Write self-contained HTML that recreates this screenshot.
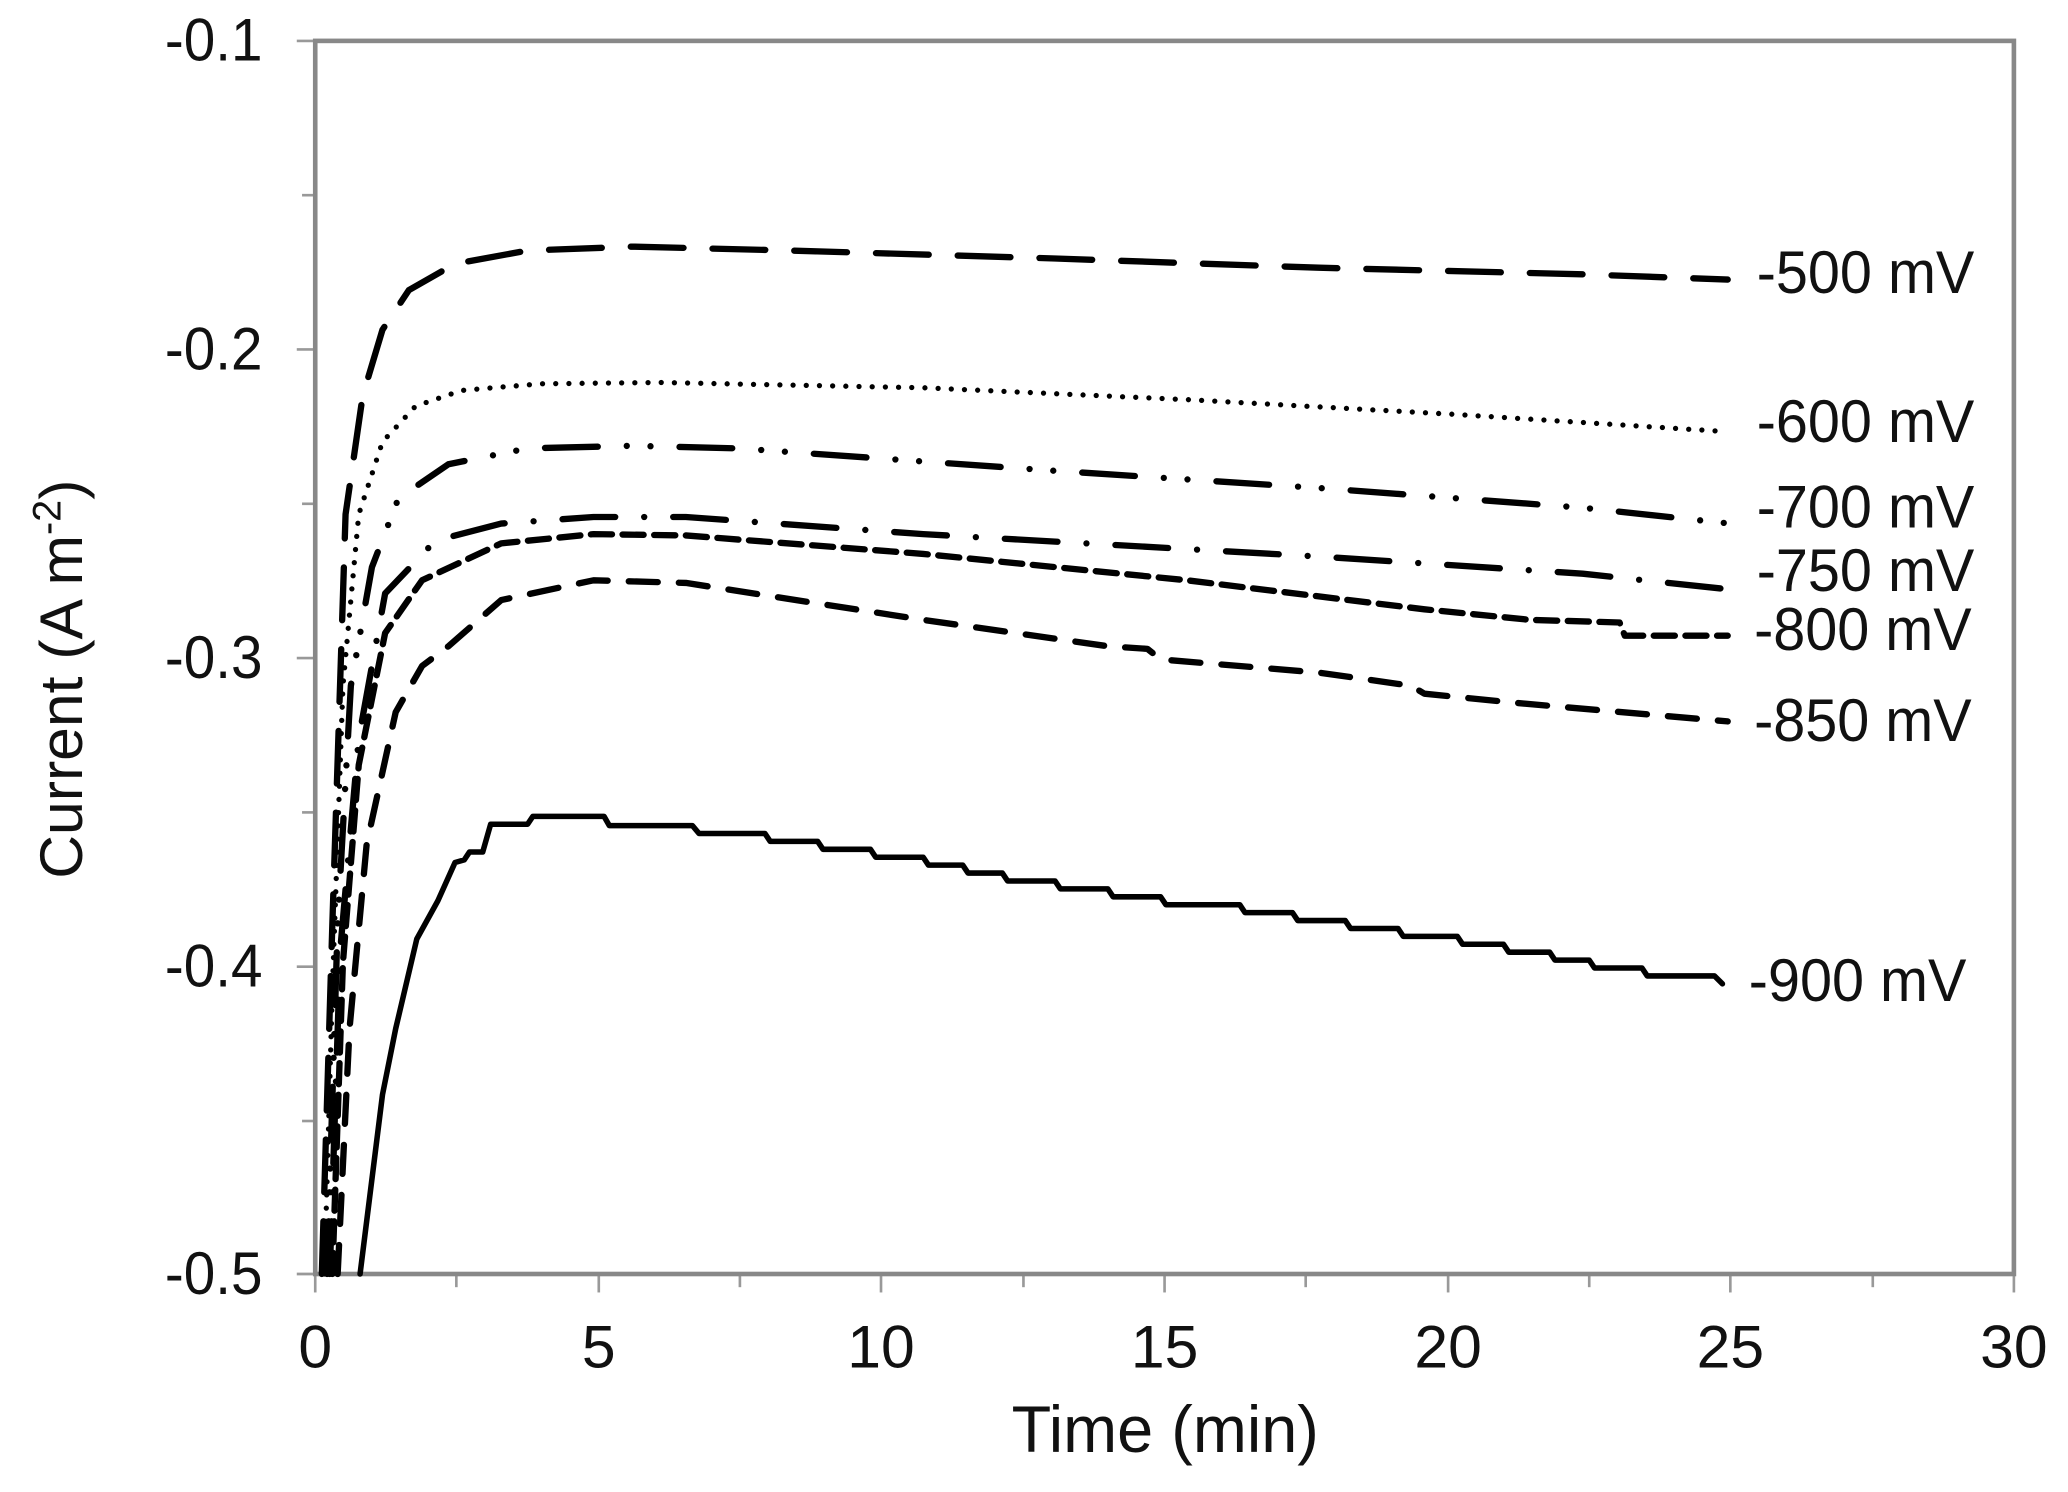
<!DOCTYPE html>
<html><head><meta charset="utf-8"><style>
html,body{margin:0;padding:0;background:#fff;}
svg{display:block;}
text{font-family:"Liberation Sans",Arial,sans-serif;fill:#111;}
</style></head><body>
<svg width="2068" height="1492" viewBox="0 0 1568 1131.3" xmlns="http://www.w3.org/2000/svg">
<rect width="1568" height="1132" fill="#fff"/>
<g stroke="#999" stroke-width="2">
<line x1="225" y1="31" x2="239" y2="31"/><line x1="229" y1="148" x2="239" y2="148"/>
<line x1="225" y1="265" x2="239" y2="265"/><line x1="229" y1="382" x2="239" y2="382"/>
<line x1="225" y1="499" x2="239" y2="499"/><line x1="229" y1="616" x2="239" y2="616"/>
<line x1="225" y1="733" x2="239" y2="733"/><line x1="229" y1="850" x2="239" y2="850"/>
<line x1="225" y1="966" x2="239" y2="966"/>
<line x1="239" y1="966" x2="239" y2="980"/><line x1="346" y1="966" x2="346" y2="976"/>
<line x1="454" y1="966" x2="454" y2="980"/><line x1="561" y1="966" x2="561" y2="976"/>
<line x1="668" y1="966" x2="668" y2="980"/><line x1="776" y1="966" x2="776" y2="976"/>
<line x1="883" y1="966" x2="883" y2="980"/><line x1="990" y1="966" x2="990" y2="976"/>
<line x1="1098" y1="966" x2="1098" y2="980"/><line x1="1205" y1="966" x2="1205" y2="976"/>
<line x1="1312" y1="966" x2="1312" y2="980"/><line x1="1420" y1="966" x2="1420" y2="976"/>
<line x1="1527" y1="966" x2="1527" y2="980"/>
</g>
<rect x="239" y="31" width="1288" height="935" fill="none" stroke="#888" stroke-width="3.5"/>
<g fill="none" stroke="#000" stroke-width="4.8" stroke-linecap="round" stroke-linejoin="round">
<path stroke-dasharray="40 22" d="M244,966 L252,700 L262,390 L275,300 L290,250 L310,220 L345,200 L400,190 L480,187 L600,190 L800,196 L1000,203 L1200,208 L1310,212"/>
<path stroke-width="4" stroke-dasharray="0 10" d="M246,966 L252,750 L260,520 L272,390 L290,335 L315,308 L350,296 L410,291 L500,290 L700,294 L900,303 L1100,314 L1305,327"/>
<path stroke-dasharray="40 22 0 18 0 22" d="M248,966 L256,700 L266,520 L282,430 L302,378 L340,352 L400,340 L480,338 L560,340 L800,357 L1000,370 L1200,385 L1312,397"/>
<path stroke-dasharray="40 22 0 22" d="M250,966 L258,720 L272,560 L292,450 L330,410 L380,397 L450,392 L520,392 L700,405 L1000,422 L1200,435 L1312,447"/>
<path stroke-dasharray="16 8" d="M252,966 L260,730 L272,580 L292,480 L320,440 L380,412 L450,405 L520,406 L700,420 L900,440 L1080,462 L1160,470 L1228,472 L1232,482 L1310,482"/>
<path stroke-dasharray="22 16" d="M256,966 L265,780 L278,640 L300,540 L320,505 L340,490 L380,455 L450,440 L520,442 L700,470 L840,490 L870,492 L880,500 L1000,510 L1070,520 L1080,526 L1150,533 L1310,547"/>
<path stroke-width="4.2" d="M273,966 L280,910 L290,830 L300,780 L316,712 L332,683 L345,654 L352,652 L356,646 L366,646 L372,625 L400,625 L404,619 L458,619 L462,626 L525,626 L530,632 L580,632 L584,638 L620,638 L624,644 L660,644 L664,650 L700,650 L704,656 L730,656 L734,662 L760,662 L764,668 L800,668 L804,674 L840,674 L844,680 L880,680 L884,686 L940,686 L944,692 L980,692 L984,698 L1020,698 L1024,704 L1060,704 L1064,710 L1105,710 L1109,716 L1140,716 L1144,722 L1175,722 L1179,728 L1205,728 L1209,734 L1245,734 L1249,740 L1300,740 L1306,746"/>
</g>
<g font-size="46">
<text x="1332" y="222" textLength="165" lengthAdjust="spacingAndGlyphs">-500 mV</text>
<text x="1332" y="335" textLength="165" lengthAdjust="spacingAndGlyphs">-600 mV</text>
<text x="1332" y="400" textLength="165" lengthAdjust="spacingAndGlyphs">-700 mV</text>
<text x="1332" y="448" textLength="165" lengthAdjust="spacingAndGlyphs">-750 mV</text>
<text x="1330" y="493" textLength="165" lengthAdjust="spacingAndGlyphs">-800 mV</text>
<text x="1330" y="562" textLength="165" lengthAdjust="spacingAndGlyphs">-850 mV</text>
<text x="1326" y="759" textLength="165" lengthAdjust="spacingAndGlyphs">-900 mV</text>
</g>
<g font-size="46">
<text x="125" y="46" textLength="74" lengthAdjust="spacingAndGlyphs">-0.1</text>
<text x="125" y="280" textLength="74" lengthAdjust="spacingAndGlyphs">-0.2</text>
<text x="125" y="514" textLength="74" lengthAdjust="spacingAndGlyphs">-0.3</text>
<text x="125" y="748" textLength="74" lengthAdjust="spacingAndGlyphs">-0.4</text>
<text x="125" y="981" textLength="74" lengthAdjust="spacingAndGlyphs">-0.5</text>
</g>
<g font-size="46" text-anchor="middle">
<text x="239" y="1037">0</text>
<text x="454" y="1037">5</text>
<text x="668" y="1037">10</text>
<text x="883" y="1037">15</text>
<text x="1098" y="1037">20</text>
<text x="1312" y="1037">25</text>
<text x="1527" y="1037">30</text>
</g>
<text font-size="50" x="767" y="1101" textLength="233" lengthAdjust="spacingAndGlyphs">Time (min)</text>
<text font-size="46" text-anchor="middle" transform="translate(62,515) rotate(-90)">Current (A m<tspan font-size="30" dy="-16">-2</tspan><tspan dy="16">)</tspan></text>
</svg>
</body></html>
